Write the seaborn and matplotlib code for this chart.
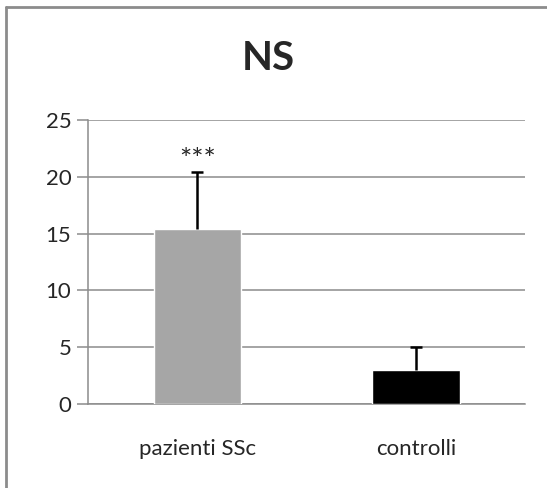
import pandas as pd
import seaborn as sns
import matplotlib.pyplot as plt
from matplotlib.lines import Line2D

# chart values
groups = ["pazienti SSc", "controlli"]
means = [15.4, 3.0]
upper_err = [5.0, 2.0]
bar_colors = ["#a6a6a6", "#000000"]
y_ticks = [0, 5, 10, 15, 20, 25]
title = "NS"
star_label = "***"
star_value = 21.4


def main():
    sns.set_style("white")
    plt.rcParams["font.family"] = ["Lato", "DejaVu Sans"]

    data = pd.DataFrame({"group": groups, "value": means})

    fig = plt.figure(figsize=(5.47, 4.88), dpi=100)
    ax = fig.add_axes([0.161, 0.172, 0.799, 0.582])

    sns.barplot(data=data, x="group", y="value", hue="group",
                palette=bar_colors, width=0.4, legend=False,
                saturation=1, ax=ax, zorder=3)

    # upper error bars only, as in the Excel original
    _, caps, _ = ax.errorbar(x=range(len(groups)), y=means,
                             yerr=[[0] * len(groups), upper_err],
                             fmt="none", ecolor="black", elinewidth=1.8,
                             capsize=4.5, capthick=1.8, zorder=4)
    caps[0].set_visible(False)

    ax.text(0, star_value, star_label, ha="center", va="center",
            fontsize=21)

    ax.set_ylim(0, 25)
    ax.set_xlim(-0.5, len(groups) - 0.5)
    ax.set_yticks(y_ticks)
    ax.yaxis.grid(True, color="#8c8c8c", linewidth=1.1, zorder=0)
    ax.set_axisbelow(True)
    ax.set_xlabel("")
    ax.set_ylabel("")

    for side in ["top", "right"]:
        ax.spines[side].set_visible(False)
    for side in ["left", "bottom"]:
        ax.spines[side].set_color("#8c8c8c")
        ax.spines[side].set_linewidth(1.1)

    # category boundary ticks below the x axis
    ax.set_xticks([-0.5, 0.5, 1.5], minor=True)
    ax.tick_params(axis="x", which="minor", length=8, width=1.1,
                   color="#8c8c8c", direction="out")
    ax.tick_params(axis="x", which="major", length=0, pad=25,
                   labelsize=16)
    ax.tick_params(axis="y", length=8, width=1.1, color="#8c8c8c",
                   direction="out", labelsize=16, pad=4)
    ax.tick_params(left=True, bottom=True)

    fig.text(0.49, 1 - 59 / 488, title, ha="center", va="center",
             fontsize=29, fontweight="bold")

    # chart frame, cropped on the right and bottom
    frame = dict(color="#8c8c8c", linewidth=2, transform=fig.transFigure)
    fig.add_artist(Line2D([6 / 547, 1], [1 - 7 / 488] * 2, **frame))
    fig.add_artist(Line2D([6 / 547] * 2, [0, 1 - 7 / 488], **frame))

    fig.savefig("out.png", dpi=100)


if __name__ == "__main__":
    main()
